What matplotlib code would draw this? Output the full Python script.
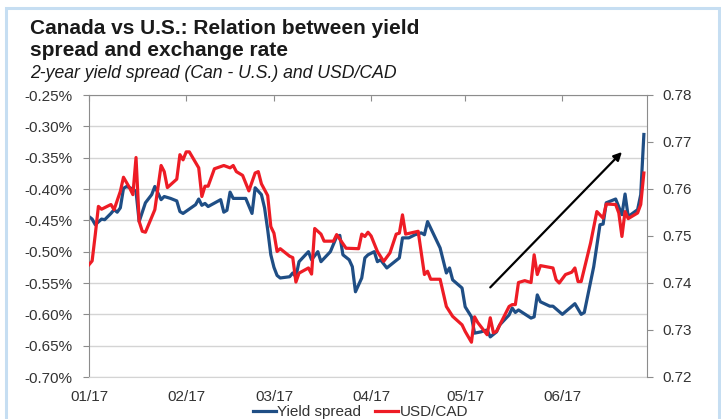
import matplotlib
matplotlib.use("Agg")
import matplotlib.pyplot as plt
import matplotlib.dates as mdates
from matplotlib.lines import Line2D
from matplotlib.patches import Rectangle
import pandas as pd

plt.rcParams["font.family"] = ["Liberation Sans", "DejaVu Sans"]

# 2-year yield spread, Canada minus U.S. (percent), left axis
spread_dates = [
    "01-01", "01-02", "01-03", "01-05", "01-06", "01-08", "01-09", "01-10", "01-11", "01-12",
    "01-13", "01-15", "01-16", "01-17", "01-19", "01-21", "01-22", "01-24", "01-25", "01-27",
    "01-29", "01-30", "01-31", "02-04", "02-05", "02-06", "02-07", "02-08", "02-12", "02-13",
    "02-14", "02-15", "02-16", "02-20", "02-22", "02-23", "02-25", "02-26", "02-27", "02-28",
    "03-01", "03-02", "03-03", "03-06", "03-07", "03-08", "03-09", "03-12", "03-13", "03-15",
    "03-16", "03-19", "03-21", "03-22", "03-23", "03-25", "03-26", "03-27", "03-29", "03-30",
    "03-31", "04-02", "04-03", "04-04", "04-06", "04-08", "04-10", "04-11", "04-13", "04-15",
    "04-17", "04-18", "04-19", "04-21", "04-23", "04-25", "04-26", "04-27", "04-30", "05-01",
    "05-03", "05-04", "05-06", "05-08", "05-09", "05-11", "05-12", "05-15", "05-16", "05-17",
    "05-18", "05-22", "05-23", "05-24", "05-25", "05-28", "05-29", "06-01", "06-05", "06-07",
    "06-08", "06-11", "06-13", "06-14", "06-15", "06-18", "06-20", "06-21", "06-22", "06-25",
    "06-26", "06-27",
]
spread_vals = [
    -0.444, -0.448, -0.457, -0.448, -0.449, -0.439, -0.433, -0.437, -0.430, -0.399,
    -0.396, -0.400, -0.404, -0.452, -0.422, -0.409, -0.396, -0.417, -0.412, -0.415,
    -0.419, -0.436, -0.439, -0.425, -0.416, -0.426, -0.423, -0.428, -0.417, -0.437,
    -0.434, -0.405, -0.415, -0.415, -0.439, -0.398, -0.409, -0.430, -0.465, -0.505,
    -0.525, -0.538, -0.542, -0.540, -0.534, -0.540, -0.516, -0.500, -0.513, -0.500,
    -0.516, -0.500, -0.476, -0.474, -0.505, -0.513, -0.524, -0.564, -0.542, -0.510,
    -0.505, -0.500, -0.516, -0.513, -0.526, -0.518, -0.510, -0.478, -0.478, -0.473,
    -0.470, -0.473, -0.452, -0.473, -0.494, -0.534, -0.526, -0.545, -0.558, -0.588,
    -0.604, -0.630, -0.628, -0.625, -0.636, -0.628, -0.617, -0.601, -0.590, -0.597,
    -0.593, -0.606, -0.604, -0.569, -0.580, -0.587, -0.587, -0.600, -0.583, -0.600,
    -0.597, -0.524, -0.457, -0.456, -0.422, -0.416, -0.441, -0.408, -0.444, -0.433,
    -0.409, -0.313,
]

# USD/CAD, right axis
fx_dates = [
    "01-01", "01-02", "01-03", "01-04", "01-05", "01-08", "01-09", "01-11", "01-12", "01-14",
    "01-15", "01-16", "01-17", "01-18", "01-19", "01-22", "01-24", "01-25", "01-26", "01-29",
    "01-30", "01-31", "02-01", "02-02", "02-05", "02-06", "02-07", "02-08", "02-10", "02-13",
    "02-15", "02-16", "02-17", "02-19", "02-21", "02-23", "02-24", "02-25", "02-27", "02-28",
    "03-01", "03-02", "03-03", "03-06", "03-07", "03-08", "03-09", "03-12", "03-13", "03-14",
    "03-16", "03-17", "03-20", "03-21", "03-24", "03-28", "03-29", "03-30", "03-31", "04-01",
    "04-03", "04-05", "04-07", "04-09", "04-10", "04-11", "04-12", "04-16", "04-18", "04-19",
    "04-20", "04-23", "04-25", "04-27", "04-30", "05-01", "05-03", "05-04", "05-05", "05-08",
    "05-09", "05-10", "05-11", "05-15", "05-16", "05-17", "05-18", "05-20", "05-22", "05-23",
    "05-24", "05-25", "05-29", "05-30", "05-31", "06-02", "06-04", "06-05", "06-06", "06-07",
    "06-10", "06-12", "06-14", "06-15", "06-18", "06-19", "06-20", "06-21", "06-22", "06-25",
    "06-26", "06-27",
]
fx_vals = [
    0.7439, 0.7447, 0.7503, 0.7563, 0.7557, 0.7567, 0.7556, 0.7595, 0.7625, 0.7602,
    0.7588, 0.7667, 0.7531, 0.7510, 0.7508, 0.7556, 0.7650, 0.7637, 0.7603, 0.7621,
    0.7673, 0.7662, 0.7679, 0.7679, 0.7645, 0.7584, 0.7606, 0.7606, 0.7643, 0.7650,
    0.7645, 0.7650, 0.7637, 0.7629, 0.7596, 0.7634, 0.7637, 0.7611, 0.7586, 0.7520,
    0.7506, 0.7467, 0.7473, 0.7457, 0.7454, 0.7402, 0.7421, 0.7432, 0.7419, 0.7516,
    0.7504, 0.7489, 0.7489, 0.7503, 0.7474, 0.7473, 0.7504, 0.7499, 0.7508, 0.7500,
    0.7467, 0.7446, 0.7464, 0.7504, 0.7506, 0.7545, 0.7504, 0.7510, 0.7418, 0.7425,
    0.7408, 0.7408, 0.7350, 0.7329, 0.7311, 0.7297, 0.7274, 0.7328, 0.7316, 0.7290,
    0.7326, 0.7294, 0.7297, 0.7350, 0.7354, 0.7354, 0.7401, 0.7405, 0.7401, 0.7460,
    0.7418, 0.7437, 0.7432, 0.7407, 0.7400, 0.7418, 0.7423, 0.7432, 0.7403, 0.7403,
    0.7485, 0.7552, 0.7538, 0.7568, 0.7567, 0.7549, 0.7499, 0.7552, 0.7537, 0.7549,
    0.7567, 0.7634,
]

left_ticks = [-0.70, -0.65, -0.60, -0.55, -0.50, -0.45, -0.40, -0.35, -0.30, -0.25]
right_ticks = [0.72, 0.73, 0.74, 0.75, 0.76, 0.77, 0.78]
arrow_from = ("2017-05-09", -0.557)
arrow_to = ("2017-06-20", -0.341)

spread_x = pd.to_datetime(["2017-" + d for d in spread_dates])
fx_x = pd.to_datetime(["2017-" + d for d in fx_dates])

blue = "#1f4e85"
red = "#ee1c25"
grey = "#8c8c8c"
grid = "#d4d4d4"
txt = "#333333"

fig = plt.figure(figsize=(7.21, 4.19), dpi=100)
fig.patches.append(Rectangle((6 / 721, -0.1), 713 / 721, 1.1 - 8 / 419,
                             transform=fig.transFigure, fill=False,
                             edgecolor="#c6def2", lw=2.2))

fig.text(0.0416, 1 - 34 / 419, "Canada vs U.S.: Relation between yield",
         fontsize=15, fontweight="bold", color="#1a1a1a", va="baseline")
fig.text(0.0416, 1 - 56 / 419, "spread and exchange rate",
         fontsize=15, fontweight="bold", color="#1a1a1a", va="baseline")
fig.text(0.0416, 1 - 78 / 419, "2-year yield spread (Can - U.S.) and USD/CAD",
         fontsize=12.7, fontstyle="italic", color="#1a1a1a", va="baseline")

ax = fig.add_axes([89 / 721, 1 - 377 / 419, 558 / 721, 282 / 419])
ax2 = ax.twinx()

ax.plot(spread_x, spread_vals, color=blue, lw=2.3, label="Yield spread")
ax2.plot(fx_x, fx_vals, color=red, lw=2.3, label="USD/CAD")

ax.set_xlim(pd.Timestamp("2017-01-01"), pd.Timestamp("2017-06-28"))
ax.set_ylim(-0.70, -0.25)
ax2.set_ylim(0.72, 0.78)
ax.set_yticks(left_ticks)
ax.set_yticklabels(["%.2f%%" % v for v in left_ticks])
ax2.set_yticks(right_ticks)
ax2.set_yticklabels(["%.2f" % v for v in right_ticks])

ax.xaxis.set_major_locator(mdates.MonthLocator())
ax.xaxis.set_major_formatter(mdates.DateFormatter("%m/%y"))

ax.yaxis.grid(True, color=grid, lw=1.0)
ax.set_axisbelow(True)

for s in ["left", "top"]:
    ax.spines[s].set_color(grey)
ax.spines["bottom"].set_color(grid)
ax.spines["right"].set_visible(False)
for s in ["left", "top", "bottom"]:
    ax2.spines[s].set_visible(False)
ax2.spines["right"].set_color(grey)

ax.tick_params(axis="x", top=True, bottom=False, direction="in", length=4,
               color=grey, labelsize=11, labelcolor=txt, pad=9)
ax.tick_params(axis="y", direction="out", length=4, color=grey,
               labelsize=11, labelcolor=txt, pad=8)
ax2.tick_params(axis="y", direction="out", length=4, color=grey,
                labelsize=11, labelcolor=txt, pad=7)

ax.annotate("", xy=(pd.Timestamp(arrow_to[0]), arrow_to[1]),
            xytext=(pd.Timestamp(arrow_from[0]), arrow_from[1]),
            arrowprops=dict(arrowstyle="-|>", color="black", lw=1.6,
                            mutation_scale=12, shrinkA=0, shrinkB=0))

handles = [Line2D([], [], color=blue, lw=2.3), Line2D([], [], color=red, lw=2.3)]
fig.legend(handles, ["Yield spread", "USD/CAD"], loc="center",
           bbox_to_anchor=(0.5, 0.016), ncol=2, frameon=False, fontsize=11,
           handlelength=1.5, handletextpad=0.1, columnspacing=0.9,
           labelcolor=txt)

fig.savefig("out.png", dpi=100)
